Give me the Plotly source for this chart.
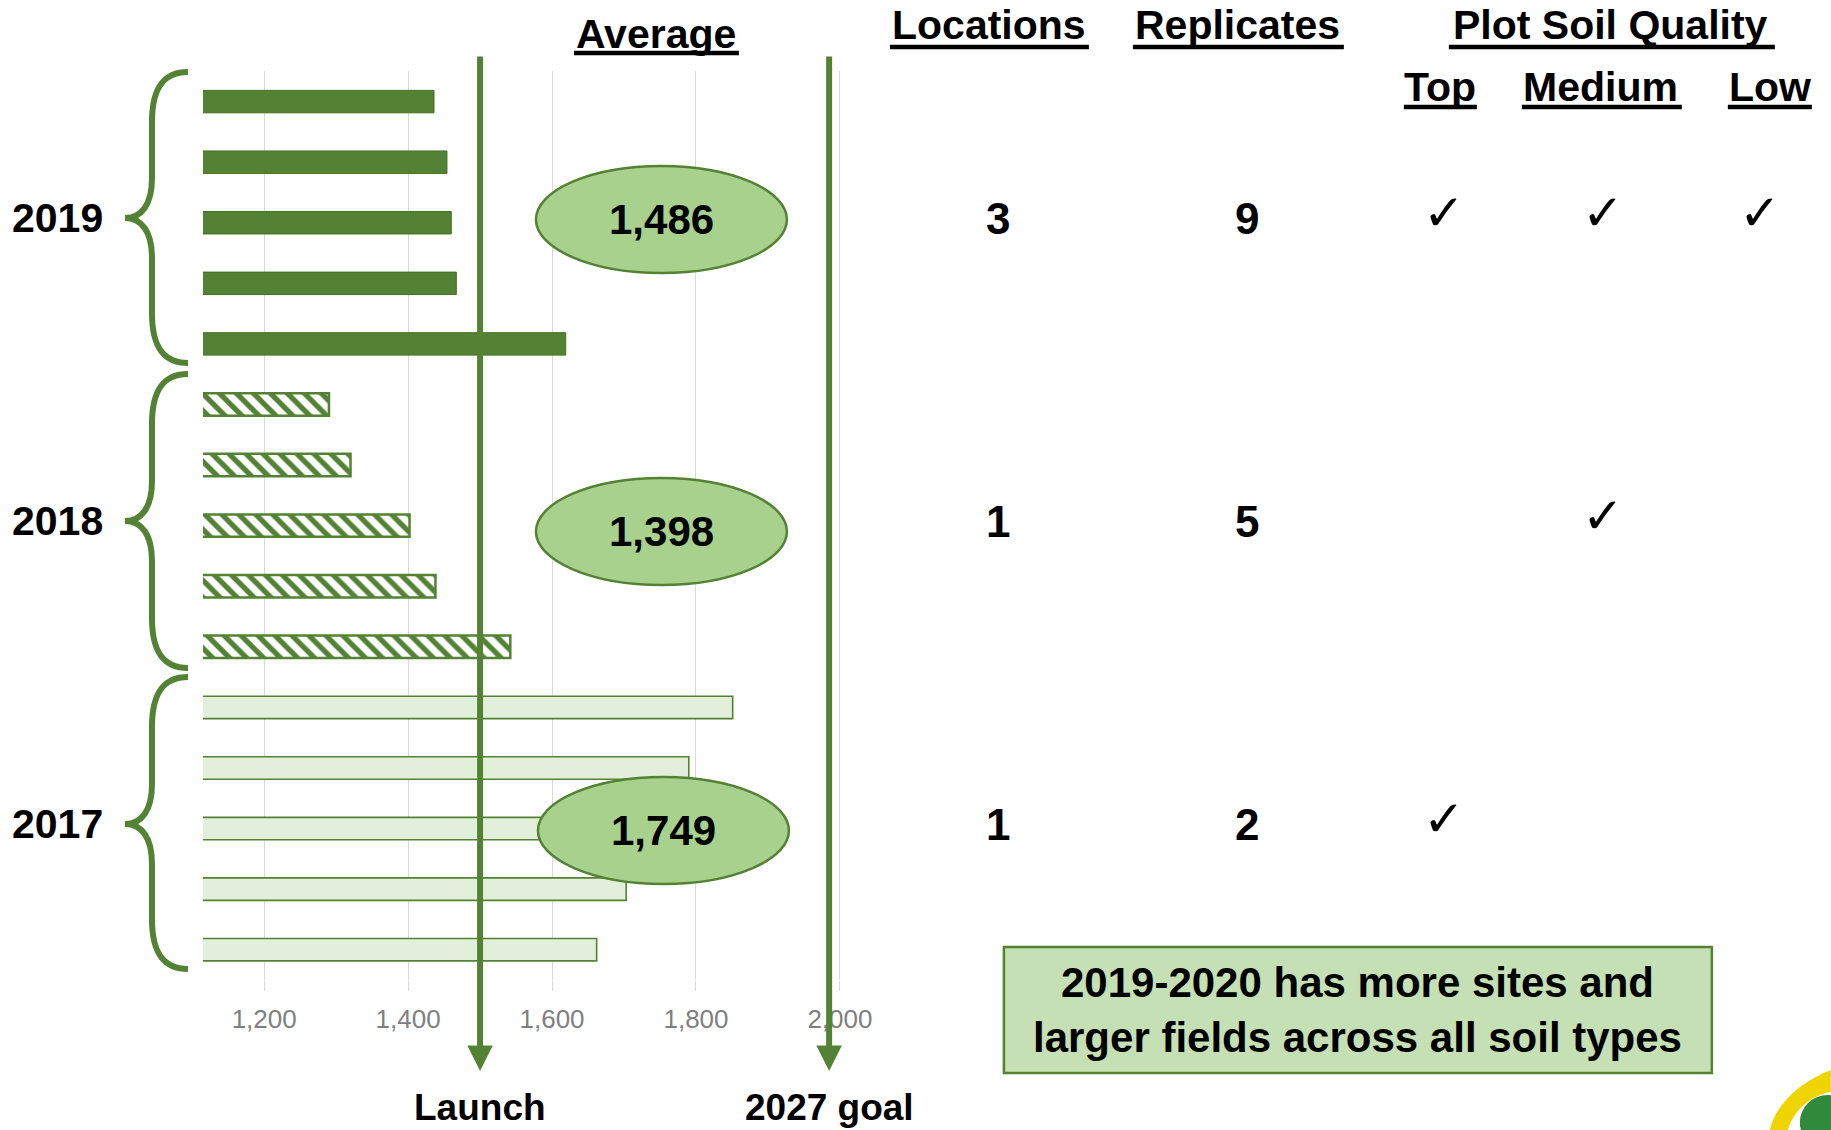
import plotly.graph_objects as go

W, H = 1831, 1130

# ---------------- data ----------------
years = ["2019", "2018", "2017"]
yields_2019 = [1436, 1454, 1460, 1467, 1619]
yields_2018 = [1290, 1320, 1402, 1438, 1542]
yields_2017 = [1851, 1790, 1739, 1703, 1662]
averages = ["1,486", "1,398", "1,749"]
locations = ["3", "1", "1"]
replicates = ["9", "5", "2"]
soil_top = [True, False, True]
soil_medium = [True, True, False]
soil_low = [True, False, False]
launch_value = 1500
goal_value = 1985
x_ticks = [1200, 1400, 1600, 1800, 2000]
marker_labels = ["Launch", "2027 goal"]

trials = [f"{y} #{i + 1}" for y in years for i in range(5)]

GREEN = "#548235"
FONT = "Liberation Sans, Arial, sans-serif"
KX = 1.016  # horizontal layout correction


def px(x):
    return x * KX / W


def py(y):
    return 1 - y / H


def path_px(cmds):
    out = []
    for c in cmds:
        if isinstance(c, str):
            out.append(c)
        else:
            out.append(f"{px(c[0]):.5f},{py(c[1]):.5f}")
    return " ".join(out)


def label(x, y, text, size, family=FONT, xref="paper"):
    return dict(x=x, y=y, xref=xref, yref="paper", text=text, showarrow=False,
                xanchor="center", yanchor="middle",
                font=dict(family=family, size=size, color="black"))


fig = go.Figure()

fig.add_trace(go.Bar(
    y=trials[0:5], x=yields_2019, orientation="h", width=0.37,
    marker=dict(color=GREEN, line=dict(color="#43701f", width=1)),
))
fig.add_trace(go.Bar(
    y=trials[5:10], x=yields_2018, orientation="h", width=0.37,
    marker=dict(color="white", line=dict(color=GREEN, width=2.5),
                pattern=dict(shape="\\", fgcolor=GREEN, bgcolor="white",
                             size=12, solidity=0.45, fillmode="replace")),
))
fig.add_trace(go.Bar(
    y=trials[10:15], x=yields_2017, orientation="h", width=0.37,
    marker=dict(color="#e2efda", line=dict(color=GREEN, width=1.6)),
))

shapes = []
annotations = []

# braces
brace_spans = [(72, 218, 363), (374, 521, 668), (677, 824, 969)]
for top, mid, bot in brace_spans:
    shapes.append(dict(
        type="path", xref="paper", yref="paper",
        path=path_px(["M", (188, top), "C", (162, top), (152, top + 18), (152, top + 50),
                      "L", (152, mid - 40), "C", (152, mid - 14), (142, mid), (125, mid),
                      "C", (142, mid), (152, mid + 14), (152, mid + 40),
                      "L", (152, bot - 50), "C", (152, bot - 18), (162, bot), (188, bot)]),
        line=dict(color=GREEN, width=6), fillcolor="rgba(0,0,0,0)", layer="above",
    ))

# average ellipses
ellipse_boxes = [(536, 166, 787, 273), (536, 478, 787, 585), (538, 777, 789, 884)]
for (x0, y0, x1, y1), avg in zip(ellipse_boxes, averages):
    shapes.append(dict(type="circle", xref="paper", yref="paper",
                       x0=px(x0), x1=px(x1), y0=py(y1), y1=py(y0),
                       fillcolor="#a9d18e", line=dict(color=GREEN, width=2.5), layer="above"))
    annotations.append(label(px((x0 + x1) / 2), py((y0 + y1) / 2), f"<b>{avg}</b>", 42))

# vertical marker lines with arrowheads
for val, lab in zip([launch_value, goal_value], marker_labels):
    annotations.append(dict(x=val, xref="x", y=py(1071), yref="paper",
                            ax=0, ay=-(1071 - 55), axref="pixel", ayref="pixel",
                            text="", showarrow=True, arrowhead=2, arrowsize=0.85,
                            arrowwidth=6, arrowcolor=GREEN))
    annotations.append(label(val, py(1107), f"<b>{lab}</b>", 37, xref="x"))

# year labels
year_y = [218, 521, 824]
for yr, yy in zip(years, year_y):
    annotations.append(label(px(58), py(yy), f"<b>{yr}</b>", 41))

# headers
headers = [("Average", 656, 34, 574, 739, 53),
           ("Locations", 989, 25, 890, 1089, 47),
           ("Replicates", 1238, 25, 1133, 1344, 47),
           ("Plot Soil Quality", 1611, 25, 1449, 1775, 47),
           ("Top", 1440, 87, 1404, 1477, 107),
           ("Medium", 1601, 87, 1522, 1682, 107),
           ("Low", 1770, 87, 1728, 1812, 107)]
for txt, cx, cy, ux0, ux1, uy in headers:
    annotations.append(label(px(cx), py(cy), f"<b>{txt}</b>", 41))
    shapes.append(dict(type="line", xref="paper", yref="paper",
                       x0=px(ux0), x1=px(ux1), y0=py(uy), y1=py(uy),
                       line=dict(color="black", width=4.5)))

# table rows
col_x = {"loc": 998, "rep": 1247, "top": 1444, "med": 1603, "low": 1760}
for i, yy in enumerate(year_y):
    annotations.append(label(px(col_x["loc"]), py(yy), f"<b>{locations[i]}</b>", 44))
    annotations.append(label(px(col_x["rep"]), py(yy), f"<b>{replicates[i]}</b>", 44))
    for key, arr in (("top", soil_top), ("med", soil_medium), ("low", soil_low)):
        if arr[i]:
            annotations.append(label(px(col_x[key]), py(yy - 5), "✓", 50, family="DejaVu Sans"))

# note box
shapes.append(dict(type="rect", xref="paper", yref="paper",
                   x0=px(1004), x1=px(1712), y0=py(1073), y1=py(947),
                   fillcolor="#c5e0b4", line=dict(color=GREEN, width=2.5)))
annotations.append(label(px(1358), py(1010),
                         "<b>2019-2020 has more sites and<br>larger fields across all soil types</b>", 42))

# partial logo at bottom-right
shapes.append(dict(type="path", xref="paper", yref="paper",
                   path=path_px(["M", (1831, 1070), "C", (1800, 1082), (1776, 1104), (1770, 1130),
                                 "L", (1788, 1130), "C", (1794, 1110), (1810, 1096), (1831, 1092), "Z"]),
                   fillcolor="#f0d400", line=dict(width=0)))
shapes.append(dict(type="circle", xref="paper", yref="paper",
                   x0=px(1800), x1=px(1856), y0=py(1150), y1=py(1095),
                   fillcolor="#2f8a3b", line=dict(width=0)))

fig.update_layout(
    width=W, height=H, autosize=False,
    margin=dict(l=0, r=0, t=0, b=0, pad=0),
    paper_bgcolor="white", plot_bgcolor="white",
    showlegend=False, barmode="overlay",
    shapes=shapes, annotations=annotations,
    xaxis=dict(domain=[px(203), px(843.6)], range=[1115, 2005],
               tickvals=x_ticks, tickformat=",d",
               showgrid=True, gridcolor="#d9d9d9", gridwidth=1.3,
               zeroline=False, showline=False,
               ticks="outside", ticklen=10, tickcolor="#d9d9d9", tickwidth=1.3,
               ticklabelstandoff=6,
               tickfont=dict(family=FONT, size=26, color="#7f7f7f")),
    yaxis=dict(domain=[py(980), py(71.3)], type="category", categoryorder="array",
               categoryarray=trials, range=[14.5, -0.5],
               showticklabels=False, showgrid=False, zeroline=False, showline=False),
)

fig.write_html("out.html", config={"responsive": False})
